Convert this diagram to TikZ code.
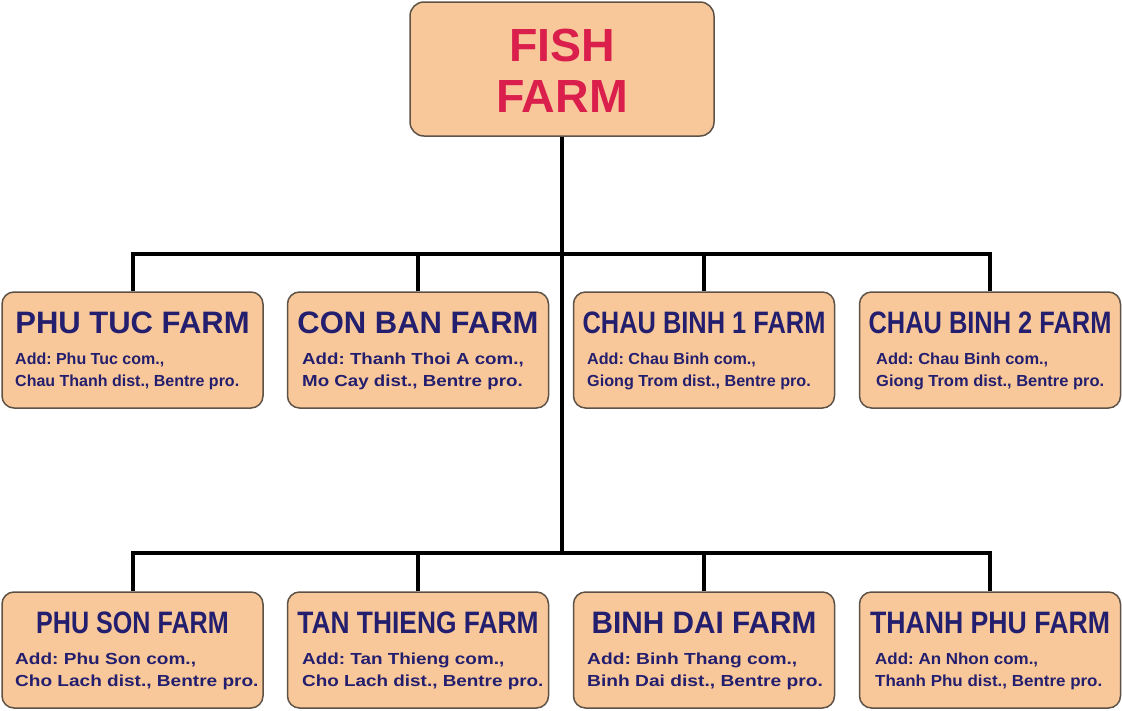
\documentclass[tikz,border=0pt]{standalone}
\usepackage{graphicx}
\usepackage{fontspec}
\setmainfont{Liberation Sans}
\frenchspacing
\definecolor{peach}{HTML}{F9C89A}
\definecolor{edge}{HTML}{5E5247}
\definecolor{crimson}{HTML}{DA1F4D}
\definecolor{navy}{HTML}{231E6E}
\tikzset{
  farmbox/.style={draw=edge, line width=1.5pt, fill=peach, rounded corners=12pt,
    minimum width=261pt, minimum height=116pt, inner sep=0pt},
  topbox/.style={draw=edge, line width=1.5pt, fill=peach, rounded corners=14pt,
    minimum width=304pt, minimum height=134pt, inner sep=0pt},
  toptext/.style={anchor=base, inner sep=0pt, text=crimson,
    font=\fontsize{46.5}{46.5}\selectfont\bfseries},
  farmtitle/.style={anchor=base, inner sep=0pt, text=navy,
    font=\fontsize{31}{31}\selectfont\bfseries},
  farmaddr/.style={anchor=base west, inner sep=0pt, text=navy,
    font=\fontsize{16}{16}\selectfont\bfseries\frenchspacing},
  link/.style={line width=4pt, black, line join=miter},
}
% #1 name, #2 centre x, #3 top y, #4 title x-scale, #5 title,
% #6 address x-scale, #7 address left x, #8 line 1, #9 line 2
\newcommand\farmnode[9]{%
  \node[farmbox] (#1) at (#2,{#3+58}) {};
  \node[farmtitle] (#1t) at (#2,{#3+41}) {\scalebox{#4}[1]{#5}};
  \node[farmaddr] (#1a) at (#7,{#3+72}) {\scalebox{#6}[1]{#8}};
  \node[farmaddr] (#1b) at (#7,{#3+94}) {\scalebox{#6}[1]{#9}};
}
\begin{document}
\begin{tikzpicture}[x=1pt,y=-1pt]
\useasboundingbox (0,0) rectangle (1122,710);
\fill[white] (0,0) rectangle (1122,710);

\coordinate (bar1) at (562,254);
\coordinate (bar2) at (562,553);

\node[topbox] (top) at (562,69) {};
\farmnode{b1}{132.5}{292}{1.0}{PHU TUC FARM}{1.0}{15}{Add: Phu Tuc com.,}{Chau Thanh dist., Bentre pro.}
\farmnode{b2}{418}{292}{1.0}{CON BAN FARM}{1.17}{302}{Add: Thanh Thoi A com.,}{Mo Cay dist., Bentre pro.}
\farmnode{b3}{704}{292}{0.82}{CHAU BINH 1 FARM}{1.01}{587}{Add: Chau Binh com.,}{Giong Trom dist., Bentre pro.}
\farmnode{b4}{990}{292}{0.82}{CHAU BINH 2 FARM}{1.03}{876}{Add: Chau Binh com.,}{Giong Trom dist., Bentre pro.}
\farmnode{b5}{132.5}{592}{0.81}{PHU SON FARM}{1.19}{15}{Add: Phu Son com.,}{Cho Lach dist., Bentre pro.}
\farmnode{b6}{418}{592}{0.85}{TAN THIENG FARM}{1.18}{302}{Add: Tan Thieng com.,}{Cho Lach dist., Bentre pro.}
\farmnode{b7}{704}{592}{0.96}{BINH DAI FARM}{1.2}{587}{Add: Binh Thang com.,}{Binh Dai dist., Bentre pro.}
\farmnode{b8}{990}{592}{0.86}{THANH PHU FARM}{1.06}{875}{Add: An Nhon com.,}{Thanh Phu dist., Bentre pro.}

\node[toptext] (fish) at (562,61) {FISH};
\node[toptext] (farm) at (562,112) {FARM};

\draw[link] (top.south) -- (bar2);
\draw[link] (b1.north) |- (bar1) -| (b4.north);
\draw[link] (b2.north) -- (b2.north |- bar1);
\draw[link] (b3.north) -- (b3.north |- bar1);
\draw[link] (b5.north) |- (bar2) -| (b8.north);
\draw[link] (b6.north) -- (b6.north |- bar2);
\draw[link] (b7.north) -- (b7.north |- bar2);
\end{tikzpicture}
\end{document}
